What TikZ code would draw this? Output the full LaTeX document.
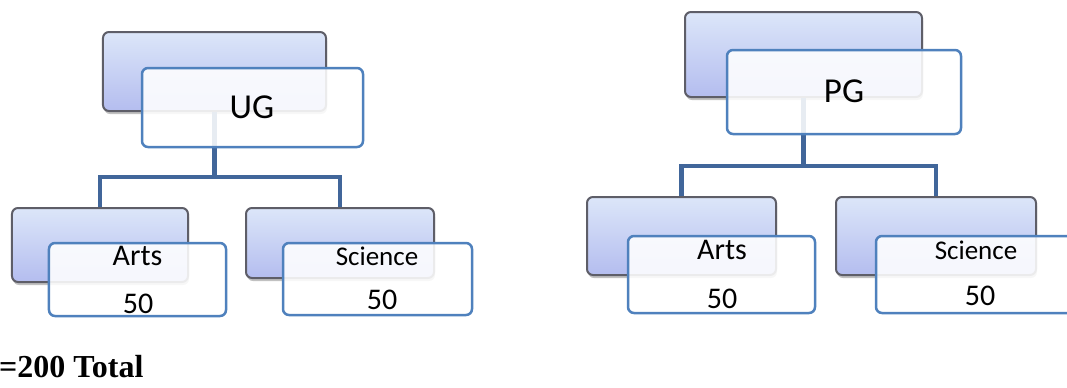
\documentclass[tikz,border=0pt]{standalone}
\usepackage{fontspec}
\setmainfont{Carlito}
\newfontfamily\timesbf{Liberation Serif}
\usetikzlibrary{shadows}
\definecolor{frontblue}{HTML}{4F81BD}
\definecolor{linkblue}{HTML}{41669A}
\definecolor{backedge}{HTML}{5E5E68}
\definecolor{backtop}{HTML}{DCE6F9}
\definecolor{backmid}{HTML}{C8D9F6}
\definecolor{backbot}{HTML}{B4BDEF}
\begin{document}
\begin{tikzpicture}[x=1bp,y=-1bp,
  backbox/.style={draw=backedge, line width=2bp, rounded corners=6bp,
    top color=backtop, middle color=backmid, bottom color=backbot, inner sep=0pt,
    drop shadow={shadow xshift=1bp, shadow yshift=-3bp, opacity=0.35, fill=black!70}},
  frontbox/.style={draw=frontblue, line width=2.5bp, rounded corners=6bp,
    fill=white, fill opacity=0.88, inner sep=0pt},
  link/.style={draw=linkblue, line width=4.5bp},
  lbl/.style={anchor=base, inner sep=0pt},
  big/.style={font=\fontsize{35bp}{40bp}\selectfont},
  mid/.style={font=\fontsize{30bp}{34bp}\selectfont},
  small/.style={font=\fontsize{27bp}{31bp}\selectfont}]
\useasboundingbox (0,0) rectangle (1067,387);

% ---------- UG tree ----------
\node[backbox, minimum width=223bp, minimum height=79bp] (ugb) at (214.5,71.5) {};
\node[backbox, minimum width=176bp, minimum height=74bp] (ugab) at (100,245) {};
\node[backbox, minimum width=188bp, minimum height=70bp] (ugsb) at (340,243) {};
\coordinate (ugj) at (215,177);
\draw[link] (ugb.south) -- (ugb.south |- ugj);
\draw[link] (ugab.north) |- (ugj) -| (ugsb.north);
\node[frontbox, minimum width=221bp, minimum height=79bp] (ugf) at (252.5,107.5) {};
\node[frontbox, minimum width=177bp, minimum height=73bp] (ugaf) at (137.5,279.5) {};
\node[frontbox, minimum width=189bp, minimum height=72bp] (ugsf) at (377.5,279) {};
\node[lbl, big] (ugt) at (252,118) {UG};
\node[lbl, mid] (ugat) at (137.5,265) {Arts};
\node[lbl, mid] (ugan) at (138,313) {50};
\node[lbl, small] (ugst) at (377,265) {Science};
\node[lbl, mid] (ugsn) at (382,309) {50};

% ---------- PG tree ----------
\node[backbox, minimum width=237bp, minimum height=85bp] (pgb) at (803.5,54.5) {};
\node[backbox, minimum width=189bp, minimum height=78bp] (pgab) at (681.5,236) {};
\node[backbox, minimum width=200bp, minimum height=78bp] (pgsb) at (936,236) {};
\coordinate (pgj) at (805,166);
\draw[link] (pgb.south) -- (pgb.south |- pgj);
\draw[link] (pgab.north) |- (pgj) -| (pgsb.north);
\node[frontbox, minimum width=234bp, minimum height=84bp] (pgf) at (844,92) {};
\node[frontbox, minimum width=187bp, minimum height=77bp] (pgaf) at (721.5,274.5) {};
\node[frontbox, minimum width=209bp, minimum height=77bp] (pgsf) at (980.5,274.5) {};
\node[lbl, big] (pgt) at (844,102) {PG};
\node[lbl, mid] (pgat) at (722,259) {Arts};
\node[lbl, mid] (pgan) at (722,308) {50};
\node[lbl, small] (pgst) at (976,259) {Science};
\node[lbl, mid] (pgsn) at (980,305) {50};

% ---------- total ----------
\node[anchor=base west, inner sep=0pt, font=\timesbf\bfseries\fontsize{32bp}{36bp}\selectfont] (total) at (-1,377) {=200 Total};
\end{tikzpicture}
\end{document}
